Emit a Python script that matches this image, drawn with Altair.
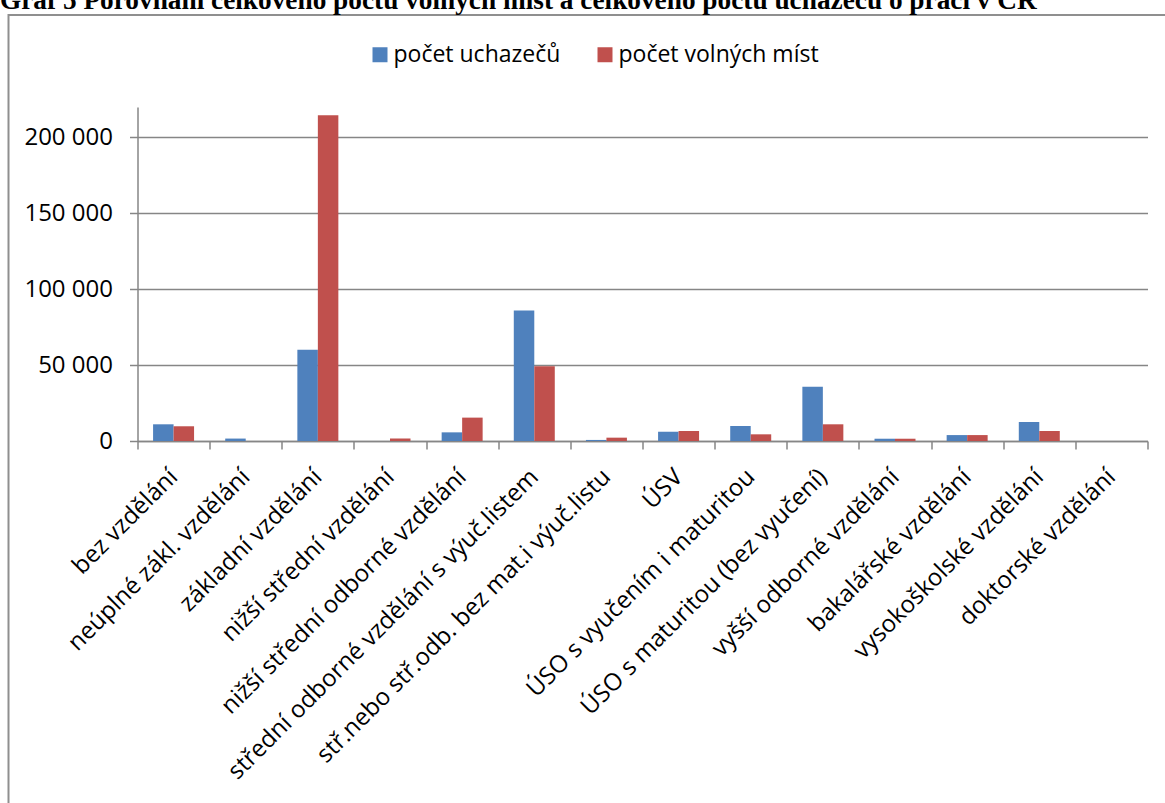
import altair as alt
import pandas as pd

# Education levels (x categories)
categories = [
    "bez vzdělání",
    "neúplné zákl. vzdělání",
    "základní vzdělání",
    "nižší střední vzdělání",
    "nižší střední odborné vzdělání",
    "střední odborné vzdělání s výuč.listem",
    "stř.nebo stř.odb. bez mat.i výuč.listu",
    "ÚSV",
    "ÚSO s vyučením i maturitou",
    "ÚSO s maturitou (bez vyučení)",
    "vyšší odborné vzdělání",
    "bakalářské vzdělání",
    "vysokoškolské vzdělání",
    "doktorské vzdělání",
]

# Job seekers per education level
uchazeci = [11000, 1600, 60100, 0, 5700, 86000, 700, 6100, 9900, 35700, 1500, 3900, 12500, 0]
# Vacancies per education level
volna_mista = [9700, 0, 214500, 1600, 15400, 49300, 2200, 6600, 4400, 11000, 1500, 3900, 6600, 0]

series_names = ["počet uchazečů", "počet volných míst"]
series_colors = ["#4F81BD", "#C0504D"]
y_ticks = [0, 50000, 100000, 150000, 200000]
title_text = "Graf 5 Porovnání celkového počtu volných míst a celkového počtu uchazečů o práci v ČR"

rows = []
for cat, u, v in zip(categories, uchazeci, volna_mista):
    rows.append({"kategorie": cat, "rada": series_names[0], "hodnota": u})
    rows.append({"kategorie": cat, "rada": series_names[1], "hodnota": v})
df = pd.DataFrame(rows)

W, H = 1010, 334
PAD = {"left": 137.5, "top": 107, "right": 17.5, "bottom": 362}
GRAY = "#868686"
FONT = "Open Sans"

one = pd.DataFrame({"k": [0]})

# Outer chart-area border (runs past the right and bottom edges)
frame = alt.Chart(one).mark_rect(fillOpacity=0, stroke="#8f8f8f", strokeWidth=2).encode(
    x=alt.value(-129), x2=alt.value(W + 60),
    y=alt.value(-92), y2=alt.value(H + 420),
)

title = alt.Chart(one).mark_text(
    align="left", baseline="alphabetic", font="Liberation Serif",
    fontWeight="bold", fontSize=27.3, color="black",
).encode(x=alt.value(-137.5), y=alt.value(-98), text=alt.value(title_text))

bars = alt.Chart(df).mark_bar().encode(
    x=alt.X(
        "kategorie:N", sort=categories,
        scale=alt.Scale(paddingInner=0, paddingOuter=0),
        axis=alt.Axis(
            title=None, labelAngle=-45, labelAlign="right", labelBaseline="middle",
            labelFont=FONT, labelFontSize=24, labelColor="black",
            labelLimit=1000, labelOverlap=False, labelPadding=24,
            tickBand="extent", tickSize=8, tickColor=GRAY, tickWidth=1.5,
            domainColor=GRAY, domainWidth=1.5, grid=False,
        ),
    ),
    xOffset=alt.XOffset(
        "rada:N", sort=series_names,
        scale=alt.Scale(paddingOuter=0.76, paddingInner=0),
    ),
    y=alt.Y(
        "hodnota:Q",
        scale=alt.Scale(domain=[0, 220000], nice=False),
        axis=alt.Axis(
            title=None, values=y_ticks,
            labelExpr="datum.value == 0 ? '0' : format(datum.value / 1000, 'd') + ' 000'",
            labelFont=FONT, labelFontSize=24, labelColor="black", labelPadding=17,
            tickSize=8, tickColor=GRAY, tickWidth=1.5,
            domainColor=GRAY, domainWidth=1.5,
            grid=True, gridColor=GRAY, gridWidth=1.5,
        ),
    ),
    color=alt.Color(
        "rada:N", sort=series_names,
        scale=alt.Scale(domain=series_names, range=series_colors),
        legend=alt.Legend(
            title=None, orient="none", legendX=231, legendY=-64,
            direction="horizontal", symbolType="square", symbolSize=225,
            symbolStrokeWidth=0, labelFont=FONT, labelFontSize=23,
            labelColor="black", labelOffset=2, columnPadding=33, padding=0,
            labelLimit=1000,
        ),
    ),
)

chart = alt.layer(frame, title, bars).properties(
    width=W, height=H, padding=PAD,
    autosize=alt.AutoSizeParams(type="none"),
    background="white",
).configure_view(stroke=None)

chart.save("out.html", embed_options={"renderer": "svg", "actions": False})
